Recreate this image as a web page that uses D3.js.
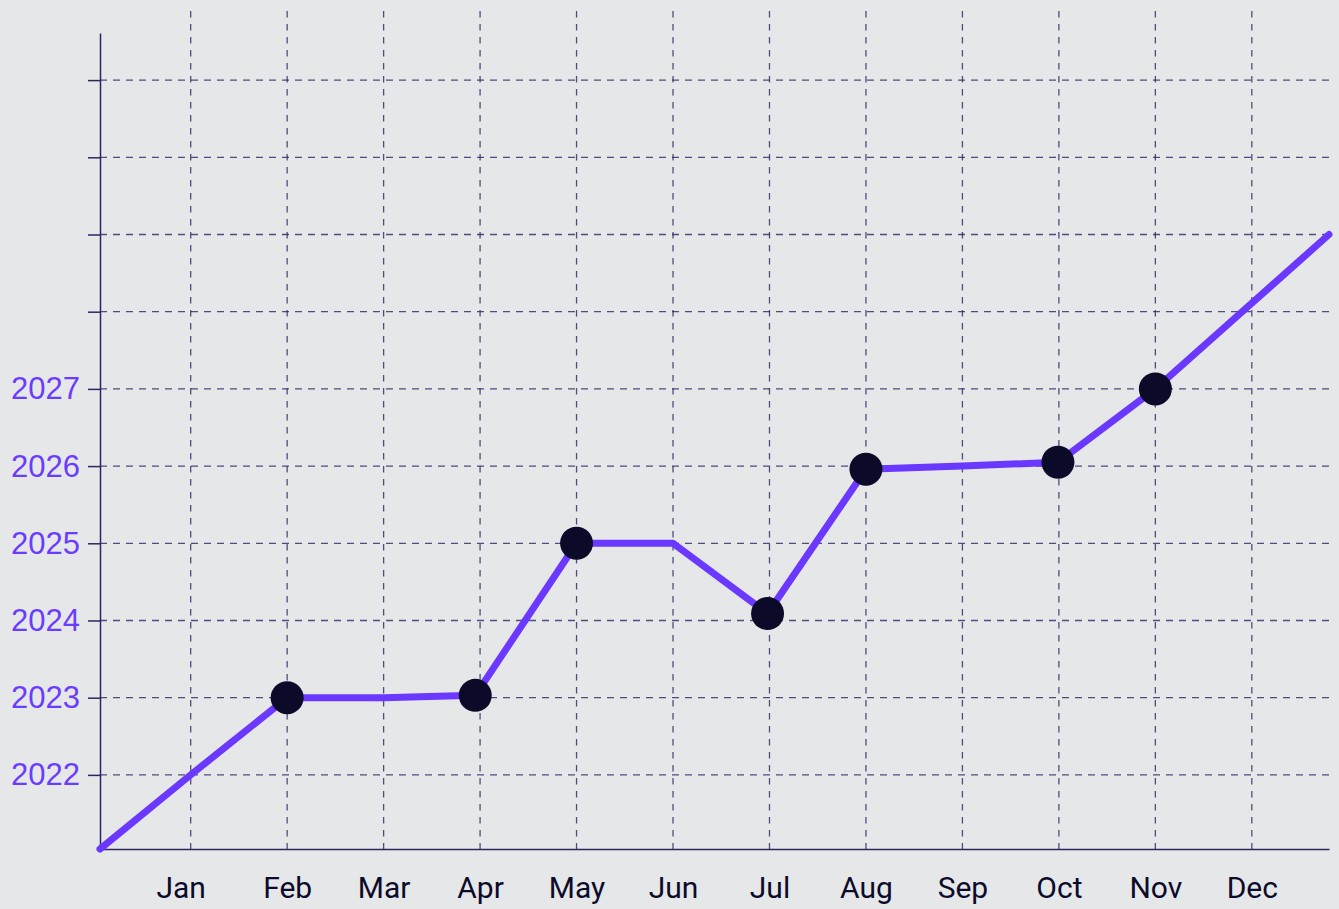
<!DOCTYPE html>
<html>
<head>
<meta charset="utf-8">
<script src="https://cdn.jsdelivr.net/npm/d3@7"></script>
<style>
  html, body { margin: 0; padding: 0; background: #e6e7e9; }
  svg { display: block; }
</style>
</head>
<body>
<div id="chart"></div>
<script>
// month positions along x and their labels
const monthPos = [1, 2, 3, 4, 5, 6, 7, 8, 9, 10, 11, 12];
const monthNames = ["Jan", "Feb", "Mar", "Apr", "May", "Jun", "Jul", "Aug", "Sep", "Oct", "Nov", "Dec"];

// y ticks (only the first six carry a label)
const yTicks = [2022, 2023, 2024, 2025, 2026, 2027, 2028, 2029, 2030, 2031];
const yLabelled = [2022, 2023, 2024, 2025, 2026, 2027];

// line vertices
const lineX = [0.06, 1, 2, 3, 3.95, 5, 6, 6.98, 8, 9, 9.99, 11, 12, 12.8];
const lineY = [2021.04, 2022, 2023, 2023, 2023.03, 2025, 2025, 2024.09, 2025.96, 2026.0, 2026.05, 2027, 2028.11, 2029];
const hasDot = [false, false, true, false, true, true, false, true, true, false, true, true, false, false];

const data = lineX.map((x, i) => ({ x: x, y: lineY[i], dot: hasDot[i] }));

(function () {
  const W = 1339, H = 909;
  const left = 100, right = 1329, bottom = 849, top = 33, gridTop = 11;

  const svg = d3.select("#chart")
    .append("svg")
    .attr("width", W)
    .attr("height", H);

  svg.append("rect")
    .attr("width", W).attr("height", H)
    .attr("fill", "#e6e7e9");

  const x = d3.scaleLinear()
    .domain([0.06, 12.8])
    .range([left, right]);

  const y = d3.scaleLinear()
    .domain([2021.04, 2031.61])
    .range([bottom, top]);

  const gridColor = "#2b2660";

  // vertical grid
  svg.append("g")
    .selectAll("line")
    .data(monthPos)
    .join("line")
    .attr("x1", d => x(d)).attr("x2", d => x(d))
    .attr("y1", gridTop).attr("y2", bottom)
    .attr("stroke", gridColor)
    .attr("stroke-opacity", 0.8)
    .attr("stroke-width", 1.3)
    .attr("stroke-dasharray", "6.5,6.5");

  // horizontal grid
  svg.append("g")
    .selectAll("line")
    .data(yTicks)
    .join("line")
    .attr("x1", left).attr("x2", right)
    .attr("y1", d => y(d)).attr("y2", d => y(d))
    .attr("stroke", gridColor)
    .attr("stroke-opacity", 0.8)
    .attr("stroke-width", 1.3)
    .attr("stroke-dasharray", "7,6");

  // Y axis
  const yAxis = svg.append("g")
    .attr("transform", `translate(${left},0)`)
    .call(d3.axisLeft(y)
      .tickValues(yTicks)
      .tickSize(12)
      .tickSizeOuter(0)
      .tickPadding(8)
      .tickFormat(d => yLabelled.includes(d) ? String(d) : ""));
  yAxis.select(".domain").attr("stroke", "#2b2660").attr("stroke-width", 1.5);
  yAxis.selectAll(".tick line").attr("stroke", "#2b2660").attr("stroke-width", 1.5);
  yAxis.selectAll(".tick text")
    .attr("fill", "#6a3cff")
    .style("font-family", "'Liberation Sans', Arial, sans-serif")
    .style("font-size", "31px");

  // X axis
  const xAxis = svg.append("g")
    .attr("transform", `translate(0,${bottom})`)
    .call(d3.axisBottom(x)
      .tickValues(monthPos)
      .tickSize(0)
      .tickSizeOuter(0)
      .tickFormat((d, i) => monthNames[i]));
  xAxis.select(".domain").attr("stroke", "#2b2660").attr("stroke-width", 1.5);
  xAxis.selectAll(".tick text")
    .attr("y", 49)
    .attr("dy", 0)
    .attr("dx", (d, i) => i === 0 ? -10 : 0)
    .attr("fill", "#0d0b2a")
    .style("font-family", "Roboto, sans-serif")
    .style("font-size", "30px");

  // line
  const line = d3.line()
    .x(d => x(d.x))
    .y(d => y(d.y));

  svg.append("path")
    .datum(data)
    .attr("d", line)
    .attr("fill", "none")
    .attr("stroke", "#6a38ff")
    .attr("stroke-width", 7)
    .attr("stroke-linecap", "round")
    .attr("stroke-linejoin", "round");

  // dots
  svg.append("g")
    .selectAll("circle")
    .data(data.filter(d => d.dot))
    .join("circle")
    .attr("cx", d => x(d.x))
    .attr("cy", d => y(d.y))
    .attr("r", 16.5)
    .attr("fill", "#0b0a29");
})();
</script>
</body>
</html>
